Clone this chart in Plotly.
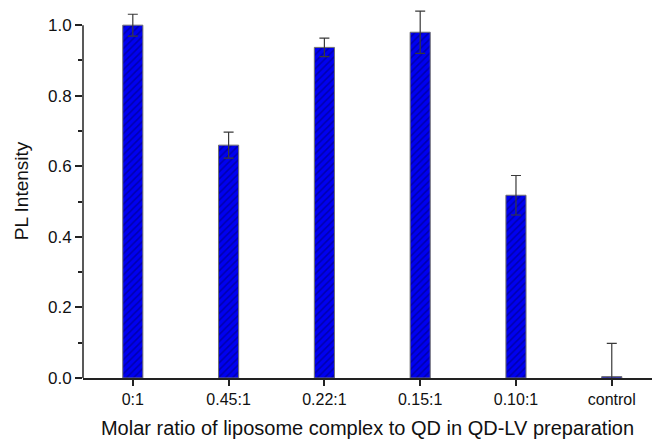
import plotly.graph_objects as go

categories = ["0:1", "0.45:1", "0.22:1", "0.15:1", "0.10:1", "control"]
pl_intensity = [1.0, 0.66, 0.937, 0.98, 0.518, 0.004]
error_vals = [0.031, 0.037, 0.026, 0.06, 0.056, 0.094]
y_tick_vals = [0.0, 0.2, 0.4, 0.6, 0.8, 1.0]
y_tick_text = ["0.0", "0.2", "0.4", "0.6", "0.8", "1.0"]

fig = go.Figure()
fig.add_trace(go.Bar(
    x=list(range(len(categories))),
    y=pl_intensity,
    width=0.21,
    marker=dict(
        color="#0000f0",
        line=dict(color="#707070", width=1),
        pattern=dict(shape="/", fgcolor="#00006a", bgcolor="#0000f0", size=5, solidity=0.3),
    ),
    error_y=dict(type="data", array=error_vals, visible=True, color="#3a3a3a", thickness=1.2, width=5),
))

fig.update_layout(
    width=656, height=439,
    margin=dict(l=83, r=4, t=4, b=61),
    plot_bgcolor="white", paper_bgcolor="white",
    showlegend=False,
    font=dict(family="Liberation Sans, Arial, sans-serif", color="#111111"),
    xaxis=dict(
        range=[-0.52, 5.42],
        tickmode="array",
        tickvals=list(range(len(categories))),
        ticktext=categories,
        ticks="outside", ticklen=6, tickwidth=1.5, tickcolor="#222222",
        showline=True, linecolor="#222222", linewidth=1.5,
        showgrid=False, zeroline=False,
        automargin=False,
        tickfont=dict(size=16),
        title=dict(text="Molar ratio of liposome complex to QD in QD-LV preparation",
                   font=dict(size=20), standoff=14),
    ),
    yaxis=dict(
        range=[0, 1.06],
        tickmode="array",
        tickvals=y_tick_vals,
        ticktext=y_tick_text,
        ticks="outside", ticklen=7, tickwidth=1.5, tickcolor="#222222",
        minor=dict(tickvals=[0.1, 0.3, 0.5, 0.7, 0.9], ticks="outside", ticklen=4,
                   tickwidth=1.5, tickcolor="#222222"),
        showline=False,
        showgrid=False, zeroline=False,
        automargin=False,
        tickfont=dict(size=17),
        title=dict(text="PL Intensity", font=dict(size=19), standoff=14),
    ),
    shapes=[dict(type="line", xref="paper", yref="y", x0=0, x1=0, y0=0, y1=1.0,
                 line=dict(color="#222222", width=1.5))],
)

fig.write_html("out.html", config={"displayModeBar": False},
               post_script="document.body.style.margin='0';document.body.style.overflow='hidden';")
